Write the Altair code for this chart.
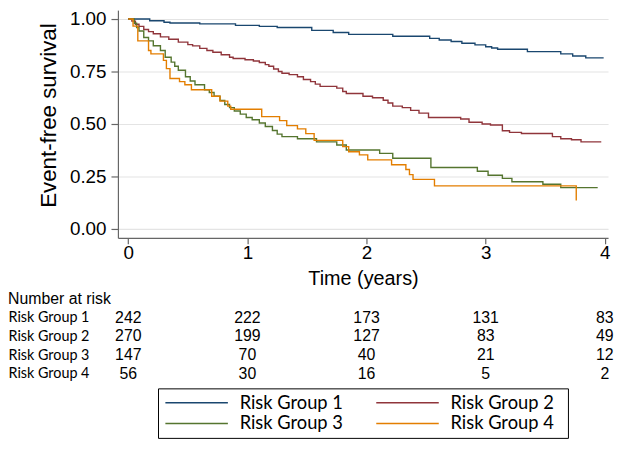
import altair as alt
import pandas as pd

groups = ["Risk Group 1", "Risk Group 2", "Risk Group 3", "Risk Group 4"]
colors = ["#1a476f", "#90353b", "#55752f", "#e37e00"]

# Kaplan-Meier step points (time in years, survival)
g1_t = [0, 0.18, 0.30, 0.35, 0.60, 0.90, 1.10, 1.25, 1.54, 1.72, 1.85, 2.22, 2.53, 2.61, 2.71, 2.80,
        2.91, 3.00, 3.05, 3.10, 3.35, 3.63, 3.73, 3.84, 3.99]
g1_s = [1.0, 0.992, 0.985, 0.981, 0.977, 0.970, 0.965, 0.960, 0.946, 0.936, 0.927, 0.918, 0.908, 0.900,
        0.893, 0.885, 0.877, 0.868, 0.862, 0.856, 0.845, 0.834, 0.824, 0.815, 0.815]

g2_t = [0, 0.03, 0.06, 0.09, 0.13, 0.17, 0.21, 0.27, 0.34, 0.42, 0.50, 0.54, 0.60, 0.66, 0.71, 0.78,
        0.85, 0.88, 0.98, 1.05, 1.10, 1.15, 1.18, 1.22, 1.26, 1.29, 1.35, 1.42, 1.47, 1.53, 1.57, 1.61,
        1.75, 1.80, 1.83, 1.97, 2.05, 2.14, 2.18, 2.22, 2.30, 2.37, 2.44, 2.52, 2.79, 2.86, 2.97, 3.04,
        3.14, 3.20, 3.30, 3.56, 3.63, 3.72, 3.80, 3.97]
g2_s = [1.0, 0.990, 0.975, 0.965, 0.950, 0.940, 0.930, 0.915, 0.904, 0.890, 0.878, 0.872, 0.860, 0.850,
        0.842, 0.830, 0.818, 0.812, 0.806, 0.800, 0.793, 0.783, 0.775, 0.762, 0.750, 0.742, 0.735, 0.725,
        0.712, 0.702, 0.690, 0.679, 0.671, 0.655, 0.645, 0.632, 0.625, 0.613, 0.600, 0.585, 0.578, 0.565,
        0.552, 0.531, 0.524, 0.508, 0.500, 0.495, 0.468, 0.460, 0.455, 0.440, 0.430, 0.425, 0.415, 0.415]

g3_t = [0, 0.05, 0.07, 0.09, 0.13, 0.17, 0.21, 0.27, 0.31, 0.36, 0.39, 0.42, 0.48, 0.52, 0.56, 0.64,
        0.68, 0.72, 0.77, 0.81, 0.85, 0.89, 0.94, 0.99, 1.04, 1.10, 1.15, 1.21, 1.25, 1.29, 1.42, 1.58,
        1.75, 1.83, 2.11, 2.22, 2.54, 2.93, 3.02, 3.14, 3.22, 3.48, 3.63, 3.94]
g3_s = [1.0, 0.980, 0.960, 0.943, 0.912, 0.896, 0.873, 0.850, 0.818, 0.795, 0.775, 0.756, 0.725, 0.705,
        0.687, 0.663, 0.650, 0.632, 0.612, 0.593, 0.578, 0.562, 0.547, 0.531, 0.520, 0.505, 0.488, 0.469,
        0.452, 0.440, 0.430, 0.415, 0.400, 0.376, 0.360, 0.337, 0.293, 0.275, 0.256, 0.241, 0.225, 0.213,
        0.197, 0.197]

g4_t = [0, 0.04, 0.08, 0.17, 0.19, 0.295, 0.32, 0.35, 0.43, 0.475, 0.53, 0.70, 0.77, 0.835, 0.86,
        1.12, 1.27, 1.33, 1.42, 1.49, 1.56, 1.80, 1.85, 1.94, 2.01, 2.21, 2.33, 2.36, 2.39, 2.57, 3.76]
g4_s = [1.0, 0.966, 0.896, 0.850, 0.834, 0.803, 0.764, 0.717, 0.702, 0.687, 0.663, 0.632, 0.609, 0.585,
        0.570, 0.535, 0.516, 0.492, 0.477, 0.454, 0.422, 0.392, 0.368, 0.353, 0.329, 0.306, 0.283, 0.259,
        0.236, 0.205, 0.135]

# Number at risk table
risk_times = [0, 1, 2, 3, 4]
risk_g1 = [242, 222, 173, 131, 83]
risk_g2 = [270, 199, 127, 83, 49]
risk_g3 = [147, 70, 40, 21, 12]
risk_g4 = [56, 30, 16, 5, 2]

# legend layout (column / row of each entry)
legend_col = [0, 1, 0, 1]
legend_row = [0, 0, 1, 1]

FONT = "Liberation Sans"
LABEL_FONT = "Lato"

km_rows = []
for g, ts, ss in zip(groups, [g1_t, g2_t, g3_t, g4_t], [g1_s, g2_s, g3_s, g4_s]):
    for t, s in zip(ts, ss):
        km_rows.append({"group": g, "time": t, "surv": s})
km_df = pd.DataFrame(km_rows)

risk_rows = []
for g, ns in zip(groups, [risk_g1, risk_g2, risk_g3, risk_g4]):
    for t, n in zip(risk_times, ns):
        risk_rows.append({"group": g, "time": t, "n": n})
risk_df = pd.DataFrame(risk_rows)

leg_df = pd.DataFrame({"group": groups, "col": legend_col, "row": legend_row})

x_scale = alt.Scale(domain=[-0.087, 4.027], nice=False, zero=False)
color_scale = alt.Scale(domain=groups, range=colors)

km_chart = alt.Chart(km_df).mark_line(interpolate="step-after", strokeWidth=1.4).encode(
    x=alt.X("time:Q", scale=x_scale,
            axis=alt.Axis(values=risk_times, format="d", title="Time (years)", grid=False,
                          tickSize=6, labelPadding=0, labelFontSize=19, titleFontSize=20,
                          titlePadding=6, domainColor="#666666", tickColor="#666666",
                          domainWidth=1.2, tickWidth=1.2)),
    y=alt.Y("surv:Q", scale=alt.Scale(domain=[-0.0425, 1.0425], nice=False, zero=False),
            axis=alt.Axis(values=[0, 0.25, 0.5, 0.75, 1.0], format=".2f", title="Event-free survival",
                          grid=True, gridColor="#e4e4e4", gridWidth=1.2, tickSize=7, labelPadding=5,
                          labelFontSize=19, titleFontSize=22.5, titlePadding=9, titleY=106,
                          domainColor="#666666", tickColor="#666666", domainWidth=1.2, tickWidth=1.2)),
    color=alt.Color("group:N", scale=color_scale, legend=None),
).properties(width=495, height=230)

table = alt.Chart(risk_df).mark_text(fontSize=16, font=FONT, color="black").encode(
    x=alt.X("time:Q", scale=x_scale, axis=None),
    y=alt.Y("group:N", sort=groups, scale=alt.Scale(type="point", padding=0.5),
            axis=alt.Axis(title=None, domain=False, ticks=False, tickSize=0, grid=False,
                          labelAlign="left", labelPadding=111, labelFont=LABEL_FONT,
                          labelFontSize=14.5, labelColor="black")),
    text="n:Q",
).properties(width=495, height=76,
             title=alt.TitleParams("Number at risk", anchor="start", frame="bounds", fontSize=16,
                                   font=FONT, fontWeight="normal", offset=1, color="black"))

leg_x_scale = alt.Scale(type="band", paddingInner=0.056, paddingOuter=0)
leg_base = alt.Chart(leg_df).encode(
    y=alt.Y("row:O", scale=alt.Scale(type="point", padding=0.7), axis=None)
)
leg_lines = leg_base.mark_rule(strokeWidth=1.4).encode(
    x=alt.X("col:O", scale=leg_x_scale, bandPosition=0.037, axis=None),
    x2=alt.X2("col:O", bandPosition=0.351),
    color=alt.Color("group:N", scale=color_scale, legend=None),
)
leg_text = leg_base.mark_text(align="left", baseline="middle", font=LABEL_FONT, fontSize=18.5,
                              color="black").encode(
    x=alt.X("col:O", scale=leg_x_scale, bandPosition=0.41, axis=None),
    text="group:N",
)
legend_panel = alt.layer(leg_lines, leg_text).properties(
    width=414, height=50, view=alt.ViewBackground(stroke="black", strokeWidth=1)
)

inner = alt.vconcat(table, legend_panel, spacing=5, bounds="flush", center=True)

chart = alt.vconcat(km_chart, inner, spacing=71, bounds="flush").properties(
    padding=0
).configure_view(strokeWidth=0).configure_axis(
    labelFont=FONT, titleFont=FONT, labelColor="black", titleColor="black", titleFontWeight="normal"
)

chart.save("out.html", embed_options={"renderer": "svg", "actions": False})
